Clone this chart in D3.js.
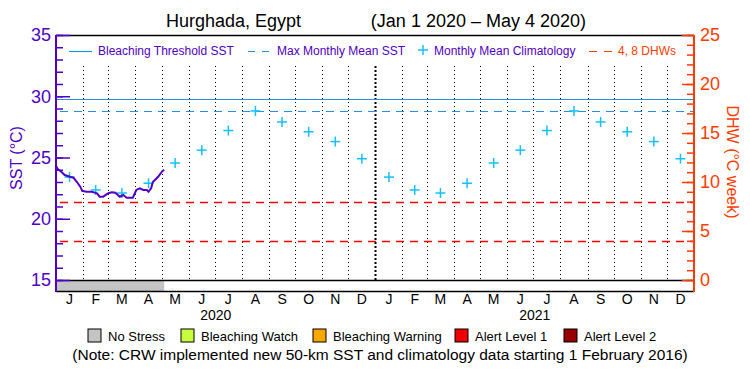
<!DOCTYPE html>
<html lang="en">
<head>
    <meta charset="utf-8" />
    <title>Hurghada, Egypt SST / DHW</title>
    <script src="https://d3js.org/d3.v7.min.js"></script>
    <style>
        body { margin: 0; background: #fff; }
        svg text { font-family: "Liberation Sans", "DejaVu Sans", sans-serif; }
    </style>
</head>
<body>
    <script>
        var w = 750;
        var h = 375;

        // SST series (Jan 1 - May 4 2020)
        var sstDates = ["2020-01-01", "2020-01-03", "2020-01-07", "2020-01-11", "2020-01-17", "2020-01-21",
            "2020-01-25", "2020-01-29", "2020-01-31", "2020-02-05", "2020-02-11", "2020-02-17", "2020-02-20",
            "2020-02-24", "2020-03-01", "2020-03-05", "2020-03-09", "2020-03-14", "2020-03-18", "2020-03-22",
            "2020-03-29", "2020-04-02", "2020-04-06", "2020-04-10", "2020-04-14", "2020-04-16", "2020-04-19",
            "2020-04-21", "2020-04-27", "2020-05-02", "2020-05-04"];
        var sstValues = [24.3, 24.06, 23.84, 23.57, 23.43, 23.35,
            23.0, 22.6, 22.27, 22.2, 22.2, 22.08, 21.8,
            21.8, 22.08, 22.16, 22.13, 21.8, 21.94, 21.72,
            21.72, 22.35, 22.49, 22.35, 22.35, 22.2, 22.49,
            23.0, 23.43, 23.9, 23.98];

        // monthly mean climatology (Jan..Dec), repeated for both years
        var climValues = [23.4, 22.35, 22.1, 22.9, 24.55, 25.6, 27.2, 28.8, 27.9, 27.1, 26.3, 24.9];
        var climYears = [2020, 2021];

        var bleachingThreshold = 29.8;
        var maxMonthlyMean = 28.8;
        var dhwLevels = [4, 8];

        var sstTicks = [15, 20, 25, 30, 35];
        var dhwTicks = [0, 5, 10, 15, 20, 25];
        var monthLetters = ["J", "F", "M", "A", "M", "J", "J", "A", "S", "O", "N", "D"];
        var yearLabels = ["2020", "2021"];

        var statusStart = "2020-01-01";
        var statusEnd = "2020-05-04";

        var legendNames = ["No Stress", "Bleaching Watch", "Bleaching Warning", "Alert Level 1", "Alert Level 2"];
        var legendColors = ["#c4c4c4", "#c8ff3c", "#f8a800", "#f00000", "#960000"];

        var purple = "#5000c8";
        var orange = "#ff3c00";
        var blue = "#2090e8";
        var cyan = "#14c0ff";
        var red = "#ff0000";

        // plot box (note: "top" is reserved on window, so use own names)
        var pL = 56, pR = 694, pT = 35, pB = 280, stripB = 291;

        var parse = d3.utcParse("%Y-%m-%d");

        var xScale = d3.scaleUtc()
            .domain([Date.UTC(2020, 0, 1), Date.UTC(2022, 0, 1)])
            .range([pL, pR]);

        var yScale = d3.scaleLinear().domain([15, 35]).range([pB, pT]);
        var dhwScale = d3.scaleLinear().domain([0, 25]).range([pB, pT]);

        function crisp(v) { return Math.round(v) + 0.5; }

        var svg = d3.select("body")
            .append("svg")
            .attr("width", w)
            .attr("height", h);

        // title
        svg.append("text")
            .attr("x", 166).attr("y", 27)
            .attr("font-size", "18px").attr("fill", "#000")
            .text("Hurghada, Egypt");
        svg.append("text")
            .attr("x", 586).attr("y", 27)
            .attr("text-anchor", "end")
            .attr("font-size", "18px").attr("fill", "#000")
            .text("(Jan 1 2020 \u2013 May 4 2020)");

        // status strip
        svg.append("rect")
            .attr("x", xScale(parse(statusStart)))
            .attr("y", pB)
            .attr("width", xScale(parse(statusEnd)) - xScale(parse(statusStart)))
            .attr("height", stripB - pB)
            .attr("fill", legendColors[0]);

        // monthly dotted lines
        var months = d3.utcMonths(Date.UTC(2020, 1, 1), Date.UTC(2022, 0, 1));
        svg.selectAll("line.month")
            .data(months)
            .enter()
            .append("line")
            .attr("class", "month")
            .attr("x1", function (d) { return crisp(xScale(d)); })
            .attr("x2", function (d) { return crisp(xScale(d)); })
            .attr("y1", 66)
            .attr("y2", pB)
            .attr("stroke", "#000")
            .attr("stroke-width", function (d) { return d.getUTCMonth() === 0 ? 2 : 1; })
            .attr("stroke-dasharray", function (d) { return d.getUTCMonth() === 0 ? "2,2" : "1,3"; });

        // threshold lines
        svg.append("line")
            .attr("x1", pL).attr("x2", pR)
            .attr("y1", crisp(yScale(bleachingThreshold))).attr("y2", crisp(yScale(bleachingThreshold)))
            .attr("stroke", blue).attr("stroke-width", 1.2);
        svg.append("line")
            .attr("x1", pL + 4).attr("x2", pR)
            .attr("y1", crisp(yScale(maxMonthlyMean))).attr("y2", crisp(yScale(maxMonthlyMean)))
            .attr("stroke", blue).attr("stroke-width", 1.2)
            .attr("stroke-dasharray", "8,6");

        svg.selectAll("line.dhw")
            .data(dhwLevels)
            .enter()
            .append("line")
            .attr("class", "dhw")
            .attr("x1", pL + 4).attr("x2", pR)
            .attr("y1", function (d) { return crisp(dhwScale(d)); })
            .attr("y2", function (d) { return crisp(dhwScale(d)); })
            .attr("stroke", red).attr("stroke-width", 1.5)
            .attr("stroke-dasharray", "8,6");

        // climatology crosses
        var clim = [];
        climYears.forEach(function (yr) {
            climValues.forEach(function (v, i) {
                var a = xScale(Date.UTC(yr, i, 1)), b = xScale(Date.UTC(yr, i + 1, 1));
                clim.push({ x: (a + b) / 2, v: v });
            });
        });
        var cross = svg.selectAll("g.clim")
            .data(clim)
            .enter()
            .append("g")
            .attr("class", "clim")
            .attr("transform", function (d) { return "translate(" + d.x + "," + yScale(d.v) + ")"; });
        cross.append("line").attr("x1", -5).attr("x2", 5).attr("stroke", cyan).attr("stroke-width", 1.5);
        cross.append("line").attr("y1", -5).attr("y2", 5).attr("stroke", cyan).attr("stroke-width", 1.5);

        // SST line
        var sst = sstDates.map(function (d, i) { return { date: parse(d), v: sstValues[i] }; });
        svg.append("path")
            .datum(sst)
            .attr("fill", "none")
            .attr("stroke", purple)
            .attr("stroke-width", 2)
            .attr("d", d3.line()
                .x(function (d) { return xScale(d.date); })
                .y(function (d) { return yScale(d.v); }));

        // frame
        svg.append("line").attr("x1", pL).attr("x2", pR).attr("y1", pT + 0.5).attr("y2", pT + 0.5)
            .attr("stroke", "#000").attr("stroke-width", 1.5);
        svg.append("line").attr("x1", pL).attr("x2", pR).attr("y1", pB + 0.5).attr("y2", pB + 0.5)
            .attr("stroke", "#000").attr("stroke-width", 1.5);
        svg.append("line").attr("x1", pL).attr("x2", pR).attr("y1", stripB + 0.5).attr("y2", stripB + 0.5)
            .attr("stroke", "#000").attr("stroke-width", 1.5);

        // left axis (SST)
        var leftG = svg.append("g").attr("transform", "translate(" + pL + ",0)");
        leftG.append("g")
            .call(d3.axisLeft(yScale).tickValues(d3.range(15, 36)).tickSize(-7).tickSizeOuter(0).tickFormat(""));
        leftG.append("g")
            .call(d3.axisLeft(yScale).tickValues(sstTicks).tickSize(-14).tickSizeOuter(0).tickPadding(5));
        leftG.selectAll("path.domain").remove();
        leftG.selectAll("line").attr("stroke", purple).attr("stroke-width", 1.5);
        leftG.selectAll("text")
            .attr("fill", purple)
            .attr("font-size", "18px")
            .attr("font-family", "Liberation Sans, sans-serif");
        svg.append("line").attr("x1", pL).attr("x2", pL).attr("y1", pT).attr("y2", stripB + 1)
            .attr("stroke", purple).attr("stroke-width", 2);

        // right axis (DHW)
        var rightG = svg.append("g").attr("transform", "translate(" + pR + ",0)");
        rightG.append("g")
            .call(d3.axisRight(dhwScale).tickValues(d3.range(0, 26)).tickSize(-7).tickSizeOuter(0).tickFormat(""));
        rightG.append("g")
            .call(d3.axisRight(dhwScale).tickValues(dhwTicks).tickSize(-12).tickSizeOuter(0).tickPadding(6));
        rightG.selectAll("path.domain").remove();
        rightG.selectAll("line").attr("stroke", orange).attr("stroke-width", 1.5);
        rightG.selectAll("text")
            .attr("fill", orange)
            .attr("font-size", "18px")
            .attr("font-family", "Liberation Sans, sans-serif");
        svg.append("line").attr("x1", pR).attr("x2", pR).attr("y1", pT).attr("y2", stripB + 1)
            .attr("stroke", orange).attr("stroke-width", 2);

        // axis titles
        svg.append("text")
            .attr("transform", "translate(22,158) rotate(-90)")
            .attr("text-anchor", "middle")
            .attr("font-size", "16px").attr("fill", purple)
            .text("SST (\u00b0C)");
        svg.append("text")
            .attr("transform", "translate(727,162) rotate(90)")
            .attr("text-anchor", "middle")
            .attr("font-size", "16px").attr("fill", orange)
            .text("DHW (\u00b0C week)");

        // month labels
        var allMonths = d3.utcMonths(Date.UTC(2020, 0, 1), Date.UTC(2022, 0, 1));
        svg.selectAll("text.mon")
            .data(allMonths)
            .enter()
            .append("text")
            .attr("class", "mon")
            .attr("x", function (d) { return (xScale(d) + xScale(d3.utcMonth.offset(d, 1))) / 2; })
            .attr("y", 304)
            .attr("text-anchor", "middle")
            .attr("font-size", "14px")
            .attr("fill", "#000")
            .text(function (d) { return monthLetters[d.getUTCMonth()]; });

        svg.selectAll("text.yr")
            .data(yearLabels)
            .enter()
            .append("text")
            .attr("class", "yr")
            .attr("x", function (d) { return (xScale(Date.UTC(+d, 0, 1)) + xScale(Date.UTC(+d + 1, 0, 1))) / 2; })
            .attr("y", 320)
            .attr("text-anchor", "middle")
            .attr("font-size", "14px")
            .attr("fill", "#000")
            .text(function (d) { return d; });

        // top legend
        var lg = svg.append("g").attr("font-size", "12px");
        lg.append("line").attr("x1", 69).attr("x2", 92).attr("y1", 51.5).attr("y2", 51.5)
            .attr("stroke", blue).attr("stroke-width", 1.2);
        lg.append("text").attr("x", 98).attr("y", 55).attr("fill", purple).text("Bleaching Threshold SST");
        lg.append("line").attr("x1", 248).attr("x2", 269).attr("y1", 51.5).attr("y2", 51.5)
            .attr("stroke", blue).attr("stroke-width", 1.2).attr("stroke-dasharray", "7,7");
        lg.append("text").attr("x", 277).attr("y", 55).attr("fill", purple).text("Max Monthly Mean SST");
        lg.append("line").attr("x1", 418).attr("x2", 428).attr("y1", 50).attr("y2", 50)
            .attr("stroke", cyan).attr("stroke-width", 1.5);
        lg.append("line").attr("x1", 423).attr("x2", 423).attr("y1", 45).attr("y2", 55)
            .attr("stroke", cyan).attr("stroke-width", 1.5);
        lg.append("text").attr("x", 434).attr("y", 55).attr("fill", purple).text("Monthly Mean Climatology");
        lg.append("line").attr("x1", 589).attr("x2", 612).attr("y1", 51.5).attr("y2", 51.5)
            .attr("stroke", orange).attr("stroke-width", 1.2).attr("stroke-dasharray", "8,7");
        lg.append("text").attr("x", 618).attr("y", 55).attr("fill", orange).text("4, 8 DHWs");

        // bottom legend
        var legendX = [88, 181, 313, 455, 564];
        var bl = svg.selectAll("g.blg")
            .data(legendNames)
            .enter()
            .append("g")
            .attr("class", "blg")
            .attr("transform", function (d, i) { return "translate(" + legendX[i] + ",329)"; });
        bl.append("rect")
            .attr("width", 13).attr("height", 13)
            .attr("fill", function (d, i) { return legendColors[i]; })
            .attr("stroke", "#000").attr("stroke-width", 1);
        bl.append("text")
            .attr("x", 20).attr("y", 11.5)
            .attr("font-size", "13px").attr("fill", "#000")
            .text(function (d) { return d; });

        svg.append("text")
            .attr("x", 380).attr("y", 360)
            .attr("text-anchor", "middle")
            .attr("font-size", "15.5px").attr("fill", "#000")
            .text("(Note: CRW implemented new 50-km SST and climatology data starting 1 February 2016)");
    </script>
</body>
</html>
